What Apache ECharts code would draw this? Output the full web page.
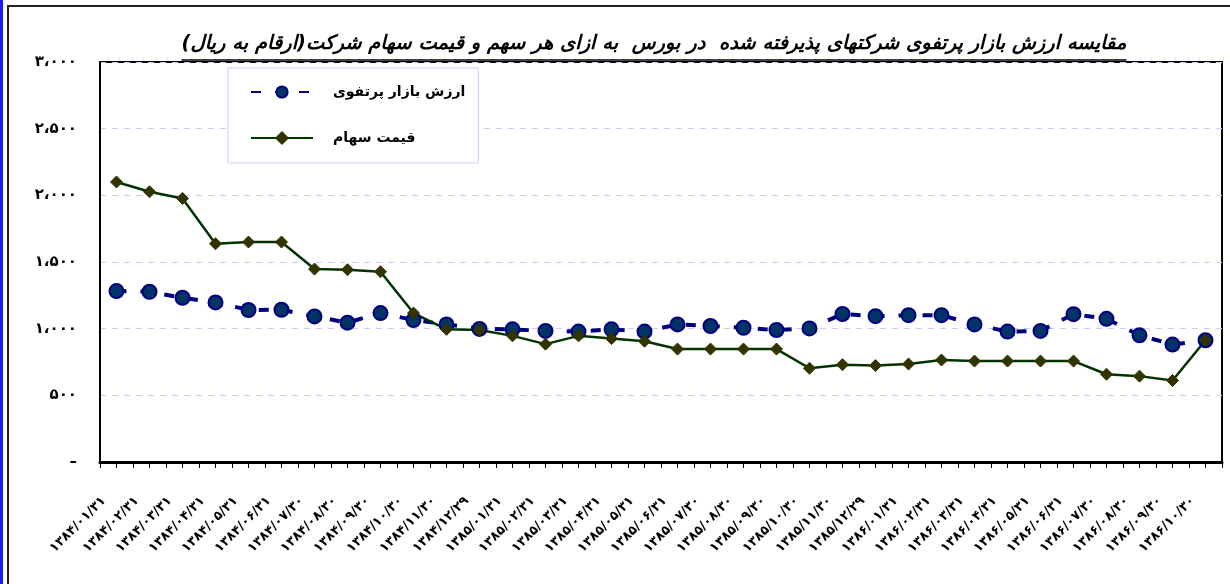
<!DOCTYPE html>
<html>
<head>
<meta charset="utf-8">
<script src="https://cdn.jsdelivr.net/npm/echarts@6/dist/echarts.min.js"></script>
<style>
  html, body { margin: 0; padding: 0; background: #fff; }
  #chart { width: 1230px; height: 584px; }
</style>
</head>
<body>
<div id="chart" dir="rtl"></div>
<script>
// داده‌ها
const chartTitle = 'مقایسه ارزش بازار پرتفوی شرکتهای پذیرفته شده  در بورس  به ازای هر سهم و قیمت سهام شرکت(ارقام به ریال)';
const seriesNames = ['ارزش بازار پرتفوی', 'قیمت سهام'];
const categories = [
    '۱۳۸۴/۰۱/۳۱', '۱۳۸۴/۰۲/۳۱', '۱۳۸۴/۰۳/۳۱', '۱۳۸۴/۰۴/۳۱', '۱۳۸۴/۰۵/۳۱', '۱۳۸۴/۰۶/۳۱',
    '۱۳۸۴/۰۷/۳۰', '۱۳۸۴/۰۸/۳۰', '۱۳۸۴/۰۹/۳۰', '۱۳۸۴/۱۰/۳۰', '۱۳۸۴/۱۱/۳۰', '۱۳۸۴/۱۲/۲۹',
    '۱۳۸۵/۰۱/۳۱', '۱۳۸۵/۰۲/۳۱', '۱۳۸۵/۰۳/۳۱', '۱۳۸۵/۰۴/۳۱', '۱۳۸۵/۰۵/۳۱', '۱۳۸۵/۰۶/۳۱',
    '۱۳۸۵/۰۷/۳۰', '۱۳۸۵/۰۸/۳۰', '۱۳۸۵/۰۹/۳۰', '۱۳۸۵/۱۰/۳۰', '۱۳۸۵/۱۱/۳۰', '۱۳۸۵/۱۲/۲۹',
    '۱۳۸۶/۰۱/۳۱', '۱۳۸۶/۰۲/۳۱', '۱۳۸۶/۰۳/۳۱', '۱۳۸۶/۰۴/۳۱', '۱۳۸۶/۰۵/۳۱', '۱۳۸۶/۰۶/۳۱',
    '۱۳۸۶/۰۷/۳۰', '۱۳۸۶/۰۸/۳۰', '۱۳۸۶/۰۹/۳۰', '۱۳۸۶/۱۰/۳۰'
];
// ارزش بازار پرتفوی
const portfolioValue = [
    1282, 1277, 1232, 1197, 1140, 1142, 1092, 1045, 1117, 1065, 1032, 998,
    995, 983, 978, 995, 978, 1032, 1020, 1007, 990, 1002,
    1110, 1094, 1101, 1101, 1032, 978, 983, 1109, 1074, 950, 881, 913
];
// قیمت سهام
const sharePrice = [
    2100, 2027, 1977, 1637, 1650, 1650, 1447, 1442, 1427, 1117, 995, 990,
    946, 884, 946, 926, 906, 847, 847, 847, 847, 703,
    730, 723, 735, 765, 757, 757, 757, 757, 658, 644, 611, 913
];
const yTickLabels = ['–', '۵۰۰', '۱،۰۰۰', '۱،۵۰۰', '۲،۰۰۰', '۲،۵۰۰', '۳،۰۰۰'];

const fontFamily = '"DejaVu Sans", sans-serif';
const titleX = 654;
const titleSize = 19.5;

// اندازه عنوان برای خط زیر آن
const measureCtx = document.createElement('canvas').getContext('2d');
measureCtx.font = 'italic bold ' + titleSize + 'px ' + fontFamily;
const titleWidth = measureCtx.measureText(chartTitle).width;

const myChart = echarts.init(document.getElementById('chart'));

const option = {
    backgroundColor: '#ffffff',
    animation: false,
    title: {
        text: chartTitle,
        left: titleX,
        top: 34,
        textAlign: 'center',
        padding: 0,
        textStyle: {
            fontFamily: fontFamily,
            fontSize: titleSize,
            fontWeight: 'bold',
            fontStyle: 'italic',
            color: '#000'
        }
    },
    legend: {
        orient: 'vertical',
        left: 228,
        top: 68,
        padding: [17, 13, 18, 22],
        itemGap: 32,
        itemWidth: 62,
        itemHeight: 14,
        backgroundColor: '#fff',
        borderColor: '#ccccff',
        borderWidth: 1,
        textStyle: {
            fontFamily: fontFamily,
            fontSize: 14,
            fontWeight: 'bold',
            color: '#000',
            padding: [0, 0, 0, 15]
        },
        data: seriesNames
    },
    grid: {
        left: 100,
        right: 8,
        top: 62,
        bottom: 122,
        show: true,
        borderColor: '#000',
        borderWidth: 2
    },
    xAxis: [
        {
            type: 'category',
            data: categories,
            boundaryGap: true,
            position: 'bottom',
            axisLine: { lineStyle: { color: '#000', width: 3 } },
            axisTick: { show: false },
            axisLabel: {
                interval: 0,
                rotate: 45,
                margin: 24,
                padding: [0, 18, 0, 0],
                fontFamily: fontFamily,
                fontSize: 13,
                fontWeight: 'bold',
                color: '#000'
            }
        },
        {
            // فقط برای تیک‌های ریز بین دسته‌ها
            type: 'category',
            data: categories.flatMap(c => [c, c]),
            boundaryGap: true,
            position: 'bottom',
            axisLine: { show: false },
            axisTick: { show: true, interval: 0, length: 6, lineStyle: { color: '#000', width: 1 } },
            axisLabel: { show: false },
            splitLine: { show: false }
        }
    ],
    yAxis: {
        type: 'value',
        min: 0,
        max: 3000,
        interval: 500,
        axisLine: { show: true, lineStyle: { color: '#000', width: 2 } },
        axisTick: { show: false },
        axisLabel: {
            margin: 23,
            fontFamily: fontFamily,
            fontSize: 15,
            fontWeight: 'bold',
            color: '#000',
            formatter: v => yTickLabels[Math.round(v / 500)]
        },
        splitLine: { lineStyle: { color: '#ccccff', type: [6, 6], width: 1 } }
    },
    series: [
        {
            name: seriesNames[0],
            type: 'line',
            data: portfolioValue,
            symbol: 'circle',
            symbolSize: 14,
            lineStyle: { color: '#000080', width: 4, type: [10, 14] },
            itemStyle: { color: '#003366', borderColor: '#000080', borderWidth: 2 }
        },
        {
            name: seriesNames[1],
            type: 'line',
            data: sharePrice,
            symbol: 'diamond',
            symbolSize: 12,
            lineStyle: { color: '#003300', width: 2.5 },
            itemStyle: { color: '#333300', borderColor: '#333300', borderWidth: 1 }
        }
    ],
    graphic: [
        { type: 'rect', shape: { x: 0, y: 0, width: 3, height: 584 }, style: { fill: '#1a1aff' } },
        { type: 'line', shape: { x1: 8, y1: 6, x2: 8, y2: 584 }, style: { stroke: '#222', lineWidth: 2 } },
        { type: 'line', shape: { x1: 7, y1: 6, x2: 1230, y2: 6 }, style: { stroke: '#222', lineWidth: 2 } },
        {
            type: 'line',
            shape: { x1: titleX - titleWidth / 2, y1: 60, x2: titleX + titleWidth / 2, y2: 60 },
            style: { stroke: '#000', lineWidth: 1.5 }
        }
    ]
};
myChart.setOption(option);
</script>
</body>
</html>
